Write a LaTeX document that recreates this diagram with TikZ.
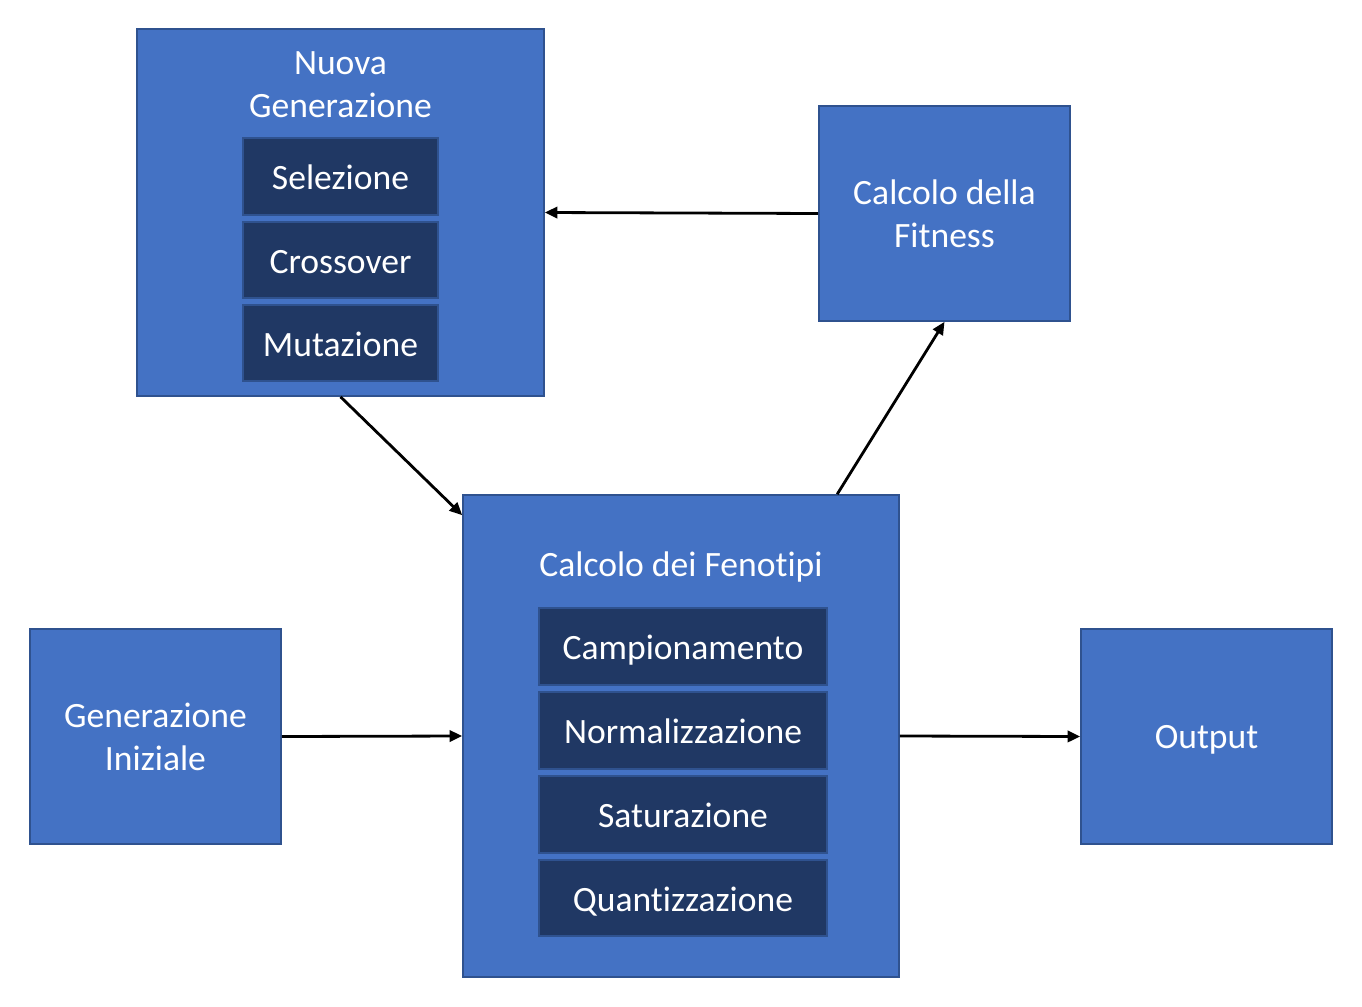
\documentclass[tikz,border=0pt]{standalone}
\usepackage{fontspec}
\setmainfont{Carlito}[Ligatures={NoCommon}]
\usetikzlibrary{arrows.meta,calc}
\definecolor{boxc}{HTML}{4472C4}
\definecolor{bordc}{HTML}{2F528F}
\definecolor{innerc}{HTML}{203864}
\tikzset{
  outerbox/.style={draw=bordc, fill=boxc, line width=1.2pt, inner sep=0pt, rectangle},
  innerbox/.style={draw=bordc, fill=innerc, line width=1.2pt, inner sep=0pt, rectangle, text=white, font=\fontsize{26.7}{32}\selectfont, text height=19.5pt, text depth=0pt},
  lbl/.style={text=white, align=center, font=\fontsize{26.7}{32}\selectfont, inner sep=0pt},
  conn/.style={line width=2.1pt, -{Triangle[length=9.5pt,width=8.5pt]}}
}
\begin{document}
\begin{tikzpicture}[x=0.75pt,y=-0.75pt]
\useasboundingbox (0,0) rectangle (1362,1006);
% Nuova Generazione
\node[outerbox, minimum width=305.25pt, minimum height=275.25pt] (nuova) at (340.5,212.5) {};
\node[lbl] (nuovat) at (340.5,85) {Nuova\\Generazione};
\node[innerbox, minimum width=146.25pt, minimum height=57.75pt] (sel) at (340.5,176.5) {Selezione};
\node[innerbox, minimum width=146.25pt, minimum height=57pt] (cross) at (340.5,260) {Crossover};
\node[innerbox, minimum width=146.25pt, minimum height=57pt] (mut) at (340.5,343) {Mutazione};
% Fitness
\node[outerbox, minimum width=188.25pt, minimum height=161.25pt] (fit) at (944.5,213.5) {};
\node[lbl] (fitt) at (944.5,214) {Calcolo della\\Fitness};
% Fenotipi
\node[outerbox, minimum width=327pt, minimum height=361.5pt] (fen) at (681,736) {};
\node[lbl] (fent) at (681,567) {Calcolo dei Fenotipi};
\node[innerbox, minimum width=216pt, minimum height=57.75pt] (camp) at (683,646.5) {Campionamento};
\node[innerbox, minimum width=216pt, minimum height=57.75pt] (norm) at (683,730.5) {Normalizzazione};
\node[innerbox, minimum width=216pt, minimum height=57.75pt] (sat) at (683,814.5) {Saturazione};
\node[innerbox, minimum width=216pt, minimum height=57pt] (quant) at (683,898) {Quantizzazione};
% Generazione Iniziale
\node[outerbox, minimum width=188.25pt, minimum height=161.25pt] (gen) at (155.5,736.5) {};
\node[lbl] (gent) at (155.5,737) {Generazione\\Iniziale};
% Output
\node[outerbox, minimum width=188.25pt, minimum height=161.25pt] (out) at (1206.5,736.5) {};
\node[lbl] (outt) at (1206.5,740) {Output};
% connectors
\draw[conn] (fit.west) -- (nuova.east);
\draw[conn] (nuova.south) -- ($(fen.north west)+(0,21)$);
\draw[conn] ($(fen.north west)+(375,0)$) -- (fit.south);
\draw[conn] (gen.east) -- (fen.west);
\draw[conn] (fen.east) -- (out.west);
\end{tikzpicture}
\end{document}
